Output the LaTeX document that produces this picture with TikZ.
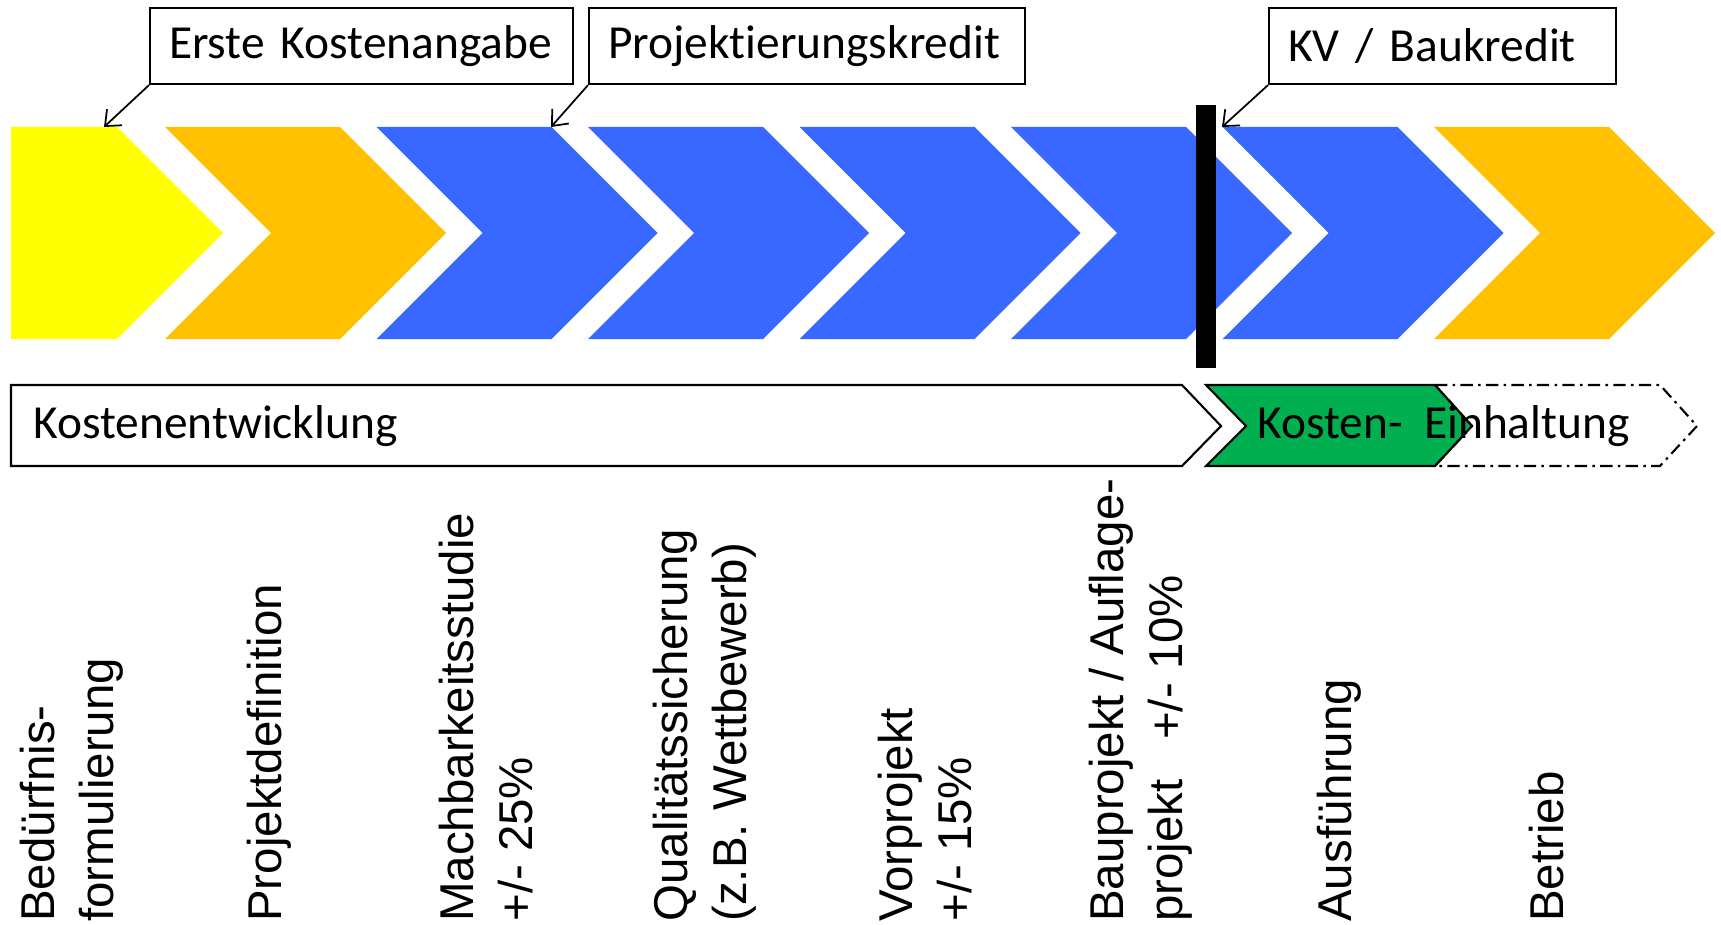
\documentclass[tikz,border=0pt]{standalone}
\usepackage{fontspec}
\setmainfont{Carlito}[Ligatures=NoCommon]
\newfontfamily\phasefont{Liberation Sans}
\usepackage{tikz}
\usetikzlibrary{positioning, arrows.meta}
\definecolor{phYellow}{RGB}{255, 255, 0}
\definecolor{phOrange}{RGB}{255, 192, 0}
\definecolor{phBlue}{RGB}{56, 104, 255}
\definecolor{phGreen}{RGB}{0, 176, 80}
\tikzset{
    base/.style={
        font=\fontsize{27}{33.5}\selectfont,
        inner sep=0pt
    },
    callout/.style={
        base,
        rectangle,
        draw=black,
        line width=1.2pt,
        fill=white,
        anchor=north west,
        align=left,
        inner xsep=3.8mm,
        minimum height=15.2mm
    },
    pointer/.style={
        -{Straight Barb[length=2.6mm, width=4.4mm]},
        line width=1pt,
        color=black
    },
    bar/.style={
        draw=black,
        line width=1.2pt
    },
    phase/.style={
        font=\phasefont\fontsize{27}{33.5}\selectfont,
        inner sep=0pt,
        rotate=90,
        anchor=north west,
        align=left
    }
}

\begin{document}
\begin{tikzpicture}[x=0.2mm, y=-0.2mm]
    \useasboundingbox (0,0) rectangle (1721,925);

    % Chevrons
    \fill[phYellow] (11,127) -- (117,127) -- (223,233) -- (117,339) -- (11,339) -- cycle;
    \foreach \i/\c in {1/phOrange, 2/phBlue, 3/phBlue, 4/phBlue, 5/phBlue, 6/phBlue, 7/phOrange} {
        \fill[\c] ({165+211.5*(\i-1)},127) -- ++(175,0) -- ++(106,106) -- ++(-106,106)
            -- ++(-175,0) -- ++(106,-106) -- cycle;
    }
    \fill[black] (1196,105) rectangle (1216,368);

    \coordinate (tipA) at (104,127);
    \coordinate (tipB) at (551,127);
    \coordinate (tipC) at (1222,127);

    % Callouts
    \node[callout, text width=77mm] (erste) at (149,7) {Erste Kostenangabe};
    \node[callout, text width=79.6mm] (projkredit) at (588,7) {Projektierungskredit};
    \node[callout, text width=61.8mm] (baukredit) at (1268,7) {KV / Baukredit};
    \draw[pointer] (erste.south west) -- (tipA);
    \draw[pointer] (projkredit.south west) -- (tipB);
    \draw[pointer] (baukredit.south west) -- (tipC);

    % Cost bars
    \draw[bar, fill=white] (11,385) -- (1182,385) -- (1221,426) -- (1182,466) -- (11,466) -- cycle;
    \node[base, anchor=west] (entwicklung) at (33,426) {Kostenentwicklung};
    \draw[bar, fill=phGreen] (1206,385) -- (1435,385) -- (1472,426) -- (1435,466) -- (1206,466) -- (1246,426) -- cycle;
    \draw[bar, dash pattern=on 7pt off 3pt on 1.5pt off 3pt] (1435,385) -- (1660,385) -- (1697,426)
        -- (1660,466) -- (1435,466) -- (1472,426) -- cycle;
    \node[base, anchor=west] (einhaltung) at (1257,426) {Kosten-\ \ Einhaltung};

    % Phases
    \node[phase] (bed) at (20,922) {Bedürfnis-\\formulierung};
    \node[phase] (pdef) at (247,922) {Projektdefinition};
    \node[phase] (mach) at (439,922) {Machbarkeitsstudie\\+/- 25\%};
    \node[phase] (qual) at (653,922) {Qualitätssicherung\\(z.B. Wettbewerb)};
    \node[phase] (vorp) at (878,922) {Vorprojekt\\+/- 15\%};
    \node[phase] (baup) at (1089,922) {Bauprojekt / Auflage-\\projekt\ \ \ +/- 10\%};
    \node[phase] (ausf) at (1317,922) {Ausführung};
    \node[phase] (betr) at (1529,922) {Betrieb};

\end{tikzpicture}
\end{document}
